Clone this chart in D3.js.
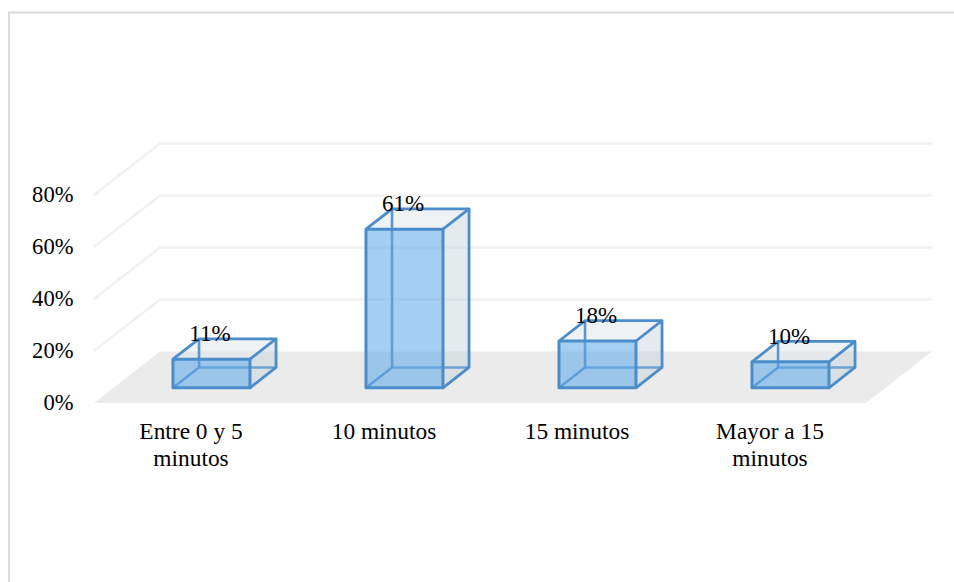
<!DOCTYPE html>
<html>
<head>
<meta charset="utf-8">
<script src="https://cdn.jsdelivr.net/npm/d3@7"></script>
<style>
html,body{margin:0;padding:0;background:#fff;}
svg{display:block;}
text{font-family:"Liberation Serif",serif;fill:#000;}
</style>
</head>
<body>
<svg id="chart" width="954" height="582"></svg>
<script>
const categories = [["Entre 0 y 5","minutos"],["10 minutos"],["15 minutos"],["Mayor a 15","minutos"]];
const shares = [11, 61, 18, 10];
const gridTicks = [0, 20, 40, 60, 80];

const svg = d3.select("#chart");

// Category slots along the floor front and the vertical value scale
const x = d3.scaleBand().domain(d3.range(categories.length)).range([95.5,867.5]);
const y = d3.scaleLinear().domain([0,80]).range([403,195]);
const floorLeft = 94, floorRight = 866;
const barWidth = 77;

// Oblique depth: t=0 is the front of the floor, t=1 the back wall
const depth = d3.scaleLinear().domain([0,1]).range([0,66]);
const rise = d3.scaleLinear().domain([0,1]).range([0,-51.5]);
const project = (px,val,t) => [px+depth(t), y(val)+rise(t)];
const path = pts => "M"+pts.map(p=>p.join(",")).join("L")+"Z";
const seg = pts => "M"+pts.map(p=>p.join(",")).join("L");

// Frame around the chart area
svg.append("path").attr("d","M9,582V12.5H954").attr("fill","none").attr("stroke","#d9d9d9").attr("stroke-width",1.8);

const plot = svg.append("g");

// Floor
plot.append("path")
  .attr("d",path([project(floorLeft,0,0),project(floorRight,0,0),project(floorRight,0,1),project(floorLeft,0,1)]))
  .attr("fill","#ebebeb");

// Gridlines along side wall and back wall
plot.append("g").selectAll("path").data(gridTicks.slice(1)).join("path")
  .attr("d",d=>seg([project(floorLeft,d,0),project(floorLeft,d,1),project(floorRight,d,1)]))
  .attr("fill","none").attr("stroke","#f1f1f1").attr("stroke-width",2.6);

// Bars, back faces first so they show through the front
const bars = plot.append("g").selectAll("g").data(shares).join("g");
const stroke = "#4a8dca";
const P = (d,i,xr,back,top)=>{
  const t = back ? 0.69 : 0.295;
  const left = x(i)+x.bandwidth()/2-barWidth/2;
  return project(left+xr*barWidth, top? d : 0, t);
};

bars.each(function(d,i){
  const g = d3.select(this);
  // top face
  g.append("path").attr("d",path([P(d,i,0,0,1),P(d,i,1,0,1),P(d,i,1,1,1),P(d,i,0,1,1)]))
    .attr("fill","#dfe6ec").attr("fill-opacity",0.5);
  // right face
  g.append("path").attr("d",path([P(d,i,1,0,0),P(d,i,1,1,0),P(d,i,1,1,1),P(d,i,1,0,1)]))
    .attr("fill","#c3d0da").attr("fill-opacity",0.45);
  // hidden edges
  g.append("path").attr("d",seg([P(d,i,0,1,1),P(d,i,0,1,0),P(d,i,0,0,0)]))
    .attr("fill","none").attr("stroke",stroke).attr("stroke-opacity",.9).attr("stroke-width",2.6);
  g.append("path").attr("d",seg([P(d,i,0,1,0),P(d,i,1,1,0)]))
    .attr("fill","none").attr("stroke",stroke).attr("stroke-opacity",.75).attr("stroke-width",2.4);
  // front face
  g.append("path").attr("d",path([P(d,i,0,0,0),P(d,i,1,0,0),P(d,i,1,0,1),P(d,i,0,0,1)]))
    .attr("fill","#5ba6ea").attr("fill-opacity",0.55);
  // visible edges
  g.append("path")
    .attr("d",path([P(d,i,0,0,0),P(d,i,1,0,0),P(d,i,1,0,1),P(d,i,0,0,1)]))
    .attr("fill","none").attr("stroke",stroke).attr("stroke-width",3).attr("stroke-linejoin","round");
  g.append("path")
    .attr("d",seg([P(d,i,0,0,1),P(d,i,0,1,1),P(d,i,1,1,1),P(d,i,1,1,0),P(d,i,1,0,0)]))
    .attr("fill","none").attr("stroke",stroke).attr("stroke-width",2.8).attr("stroke-linejoin","round");
  g.append("path").attr("d",seg([P(d,i,1,0,1),P(d,i,1,1,1)]))
    .attr("fill","none").attr("stroke",stroke).attr("stroke-width",2.8);
});

// Value labels, sitting just over the bar's front top edge
svg.append("g").selectAll("text").data(shares).join("text")
  .attr("x",(d,i)=>P(d,i,0.5,0,1)[0]-1.5)
  .attr("y",(d,i)=>P(d,i,0.5,0,1)[1]-18)
  .attr("text-anchor","middle").attr("font-size",23)
  .text(d=>d+"%");

// Value axis labels
svg.append("g").selectAll("text").data(gridTicks).join("text")
  .attr("x",73.5).attr("y",d=>y(d)+7)
  .attr("text-anchor","end").attr("font-size",22.6)
  .text(d=>d+"%");

// Category labels
const catLabels = svg.append("g").selectAll("text").data(categories).join("text")
  .attr("text-anchor","middle").attr("font-size",23.4)
  .attr("transform",(d,i)=>`translate(${x(i)+x.bandwidth()/2-1},439)`);
catLabels.selectAll("tspan").data(d=>d).join("tspan")
  .attr("x",0).attr("y",(d,i)=>i*27).text(d=>d);
</script>
</body>
</html>
